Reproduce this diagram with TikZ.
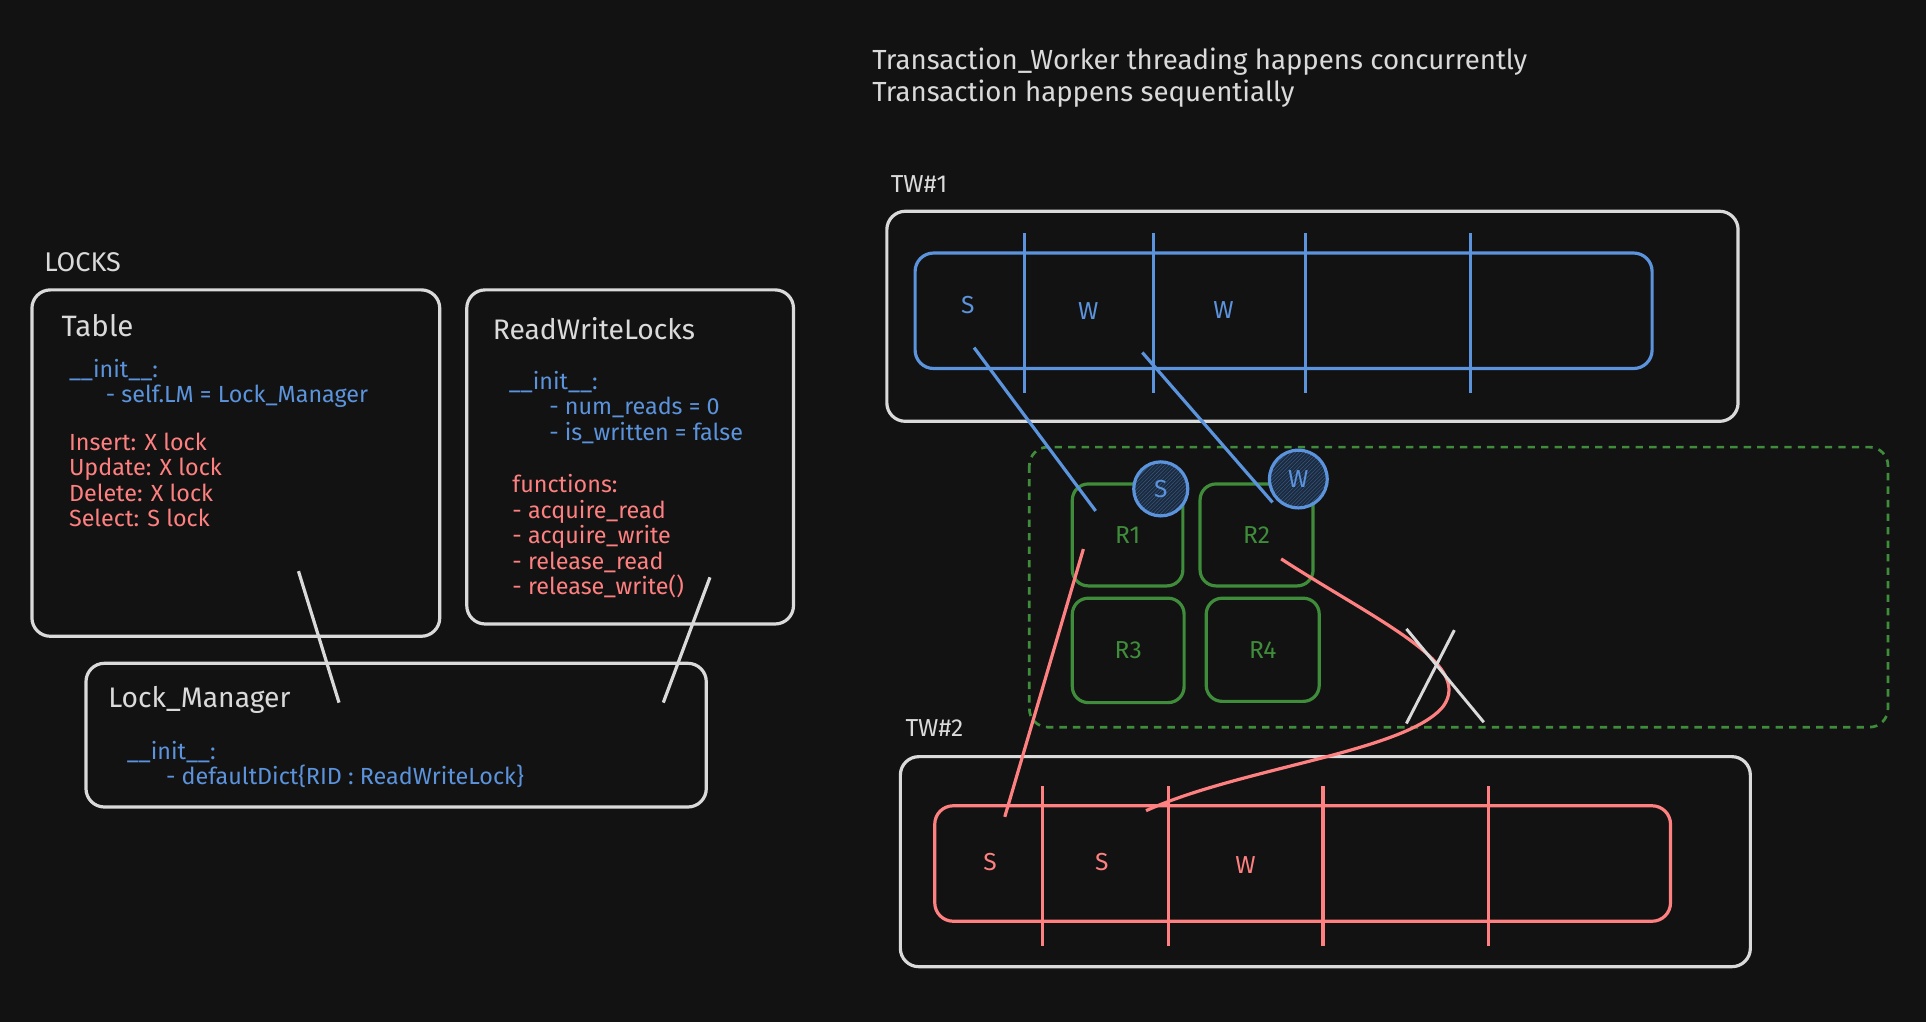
\documentclass[tikz,border=0pt]{standalone}
\usepackage{fontspec}
\setmainfont{Fira Sans}
\usepackage{xcolor}
\usepackage{tikz}
\usetikzlibrary{positioning,patterns}

\definecolor{bg}{HTML}{121212}
\definecolor{ink}{HTML}{DADADA}
\definecolor{lockblue}{HTML}{5B93DC}
\definecolor{lockred}{HTML}{FF8080}
\definecolor{rowgreen}{HTML}{3F8C3B}
\definecolor{hatchbg}{HTML}{1B2A3C}

\begin{document}
\begin{tikzpicture}[x=1pt, y=-1pt,
    box/.style={draw=ink, line width=2.6pt, rounded corners=15pt, inner sep=0pt},
    bluebox/.style={draw=lockblue, line width=2.6pt, rounded corners=15pt, inner sep=0pt},
    redbox/.style={draw=lockred, line width=2.6pt, rounded corners=15pt, inner sep=0pt},
    rowbox/.style={draw=rowgreen, line width=2.6pt, rounded corners=13pt, inner sep=0pt,
        text=rowgreen, font=\fontsize{20}{22}\selectfont},
    title/.style={text=ink, inner sep=0pt, anchor=base west, font=\fontsize{23}{26}\selectfont},
    code/.style={inner sep=0pt, anchor=north west, align=left, font=\fontsize{19}{20.8}\selectfont},
    cell/.style={inner sep=0pt, font=\fontsize{20}{22}\selectfont},
    lockmark/.style={circle, draw=lockblue, line width=2.6pt, minimum size=#1, inner sep=0pt,
        preaction={fill=hatchbg}, pattern=north east lines, pattern color=lockblue!60!black,
        text=lockblue, font=\fontsize{20}{22}\selectfont}
]
    % Background
    \fill[bg] (0,0) rectangle (1568,832);
    \useasboundingbox (0,0) rectangle (1568,832);

    % Lock classes
    \node[title, font=\fontsize{22}{24}\selectfont] (locks) at (36,221) {LOCKS};
    \node[box, minimum width=332pt, minimum height=282pt] (table) at (192,377) {};
    \node[box, minimum width=266pt, minimum height=272pt] (rwl) at (513,372) {};
    \node[box, minimum width=505pt, minimum height=117pt] (lm) at (322.5,598.5) {};

    \node[title, font=\fontsize{24}{26}\selectfont] (tabletitle) at (50,274) {Table};
    \node[code, text=lockblue] (tableinit) at (56,292) {\_\_init\_\_:\\\hspace*{30pt}- self.LM = Lock\_Manager};
    \node[code, text=lockred] (tableops) at (56,352) {Insert: X lock\\Update: X lock\\Delete: X lock\\Select: S lock};

    \node[title] (rwltitle) at (401,276) {ReadWriteLocks};
    \node[code, text=lockblue] (rwlinit) at (414,302) {\_\_init\_\_:\\\hspace*{33pt}- num\_reads = 0\\\hspace*{33pt}- is\_written = false};
    \node[code, text=lockred] (rwlfuncs) at (417,386) {functions:\\- acquire\_read\\- acquire\_write\\- release\_read\\- release\_write()};

    \node[title] (lmtitle) at (88,576) {Lock\_Manager};
    \node[code, text=lockblue] (lminit) at (103,603) {\_\_init\_\_:\\\hspace*{32pt}- defaultDict\{RID : ReadWriteLock\}};

    % Links to Lock_Manager
    \coordinate (tablelink) at (243,465);
    \coordinate (rwllink) at (578,470);
    \coordinate (lmleft) at (276,572);
    \coordinate (lmright) at (540,572);
    \draw[ink, line width=2.6pt] (tablelink) -- (lmleft);
    \draw[ink, line width=2.6pt] (rwllink) -- (lmright);

    % Notes
    \node[code, text=ink, font=\fontsize{22.5}{26}\selectfont] (notes) at (710,39) {Transaction\_Worker threading happens concurrently\\Transaction happens sequentially};

    % Transaction worker 1
    \node[title, font=\fontsize{20}{22}\selectfont] (tw1label) at (725,157) {TW\#1};
    \node[box, minimum width=693pt, minimum height=171pt] (tw1) at (1068.5,257.5) {};
    \node[bluebox, minimum width=600pt, minimum height=94pt] (q1) at (1045,253) {};
    \foreach \x in {834,939,1063,1197}
        \draw[lockblue, line width=2.6pt] (\x,190) -- (\x,320);
    \node[cell, text=lockblue] (q1s) at (788,248) {S};
    \node[cell, text=lockblue] (q1w) at (886,253) {W};
    \node[cell, text=lockblue] (q1ww) at (996,252) {W};

    % Records
    \draw[rowgreen, line width=2.2pt, dashed, dash pattern=on 6pt off 5pt, rounded corners=15pt]
        (838,364) rectangle (1537,592);
    \node[rowbox, minimum width=90pt, minimum height=83pt] (r1) at (918,435.5) {R1};
    \node[rowbox, minimum width=92pt, minimum height=83pt] (r2) at (1023,435.5) {R2};
    \node[rowbox, minimum width=91pt, minimum height=85pt] (r3) at (918.5,529.5) {R3};
    \node[rowbox, minimum width=92pt, minimum height=84pt] (r4) at (1028,529) {R4};
    \node[lockmark=44pt] (slock) at (945,398) {S};
    \node[lockmark=47pt] (wlock) at (1057,390) {W};

    % TW#1 takes locks
    \coordinate (q1sfoot) at (793,283);
    \coordinate (q1wfoot) at (930,287);
    \coordinate (r1top) at (892,416);
    \coordinate (r2top) at (1036,409);
    \draw[lockblue, line width=2.6pt] (q1sfoot) -- (r1top);
    \draw[lockblue, line width=2.6pt] (q1wfoot) -- (r2top);

    % Transaction worker 2
    \node[title, font=\fontsize{20}{22}\selectfont] (tw2label) at (737,600) {TW\#2};
    \node[box, minimum width=692pt, minimum height=171pt] (tw2) at (1079,701.5) {};
    \node[redbox, minimum width=599pt, minimum height=94pt] (q2) at (1060.5,703) {};
    \foreach \x in {849,951,1077,1212}
        \draw[lockred, line width=2.6pt] (\x,640) -- (\x,770);
    \node[cell, text=lockred] (q2s) at (806,702) {S};
    \node[cell, text=lockred] (q2ss) at (897,702) {S};
    \node[cell, text=lockred] (q2w) at (1014,704) {W};

    % TW#2 asks for locks
    \coordinate (r1mid) at (882,447);
    \coordinate (q2sfoot) at (818,665);
    \coordinate (r2mid) at (1043,455);
    \coordinate (q2ssfoot) at (933,660);
    \draw[lockred, line width=2.6pt] (r1mid) -- (q2sfoot);
    \draw[lockred, line width=2.6pt] (r2mid) .. controls (1120,505) and (1200,540) .. (1175,575)
        .. controls (1145,612) and (1010,625) .. (q2ssfoot);

    % Denied
    \coordinate (xa) at (1145,512);
    \coordinate (xb) at (1208,588);
    \coordinate (xc) at (1184,513);
    \coordinate (xd) at (1145,589);
    \draw[ink, line width=2.4pt] (xa) -- (xb);
    \draw[ink, line width=2.4pt] (xc) -- (xd);
\end{tikzpicture}
\end{document}
